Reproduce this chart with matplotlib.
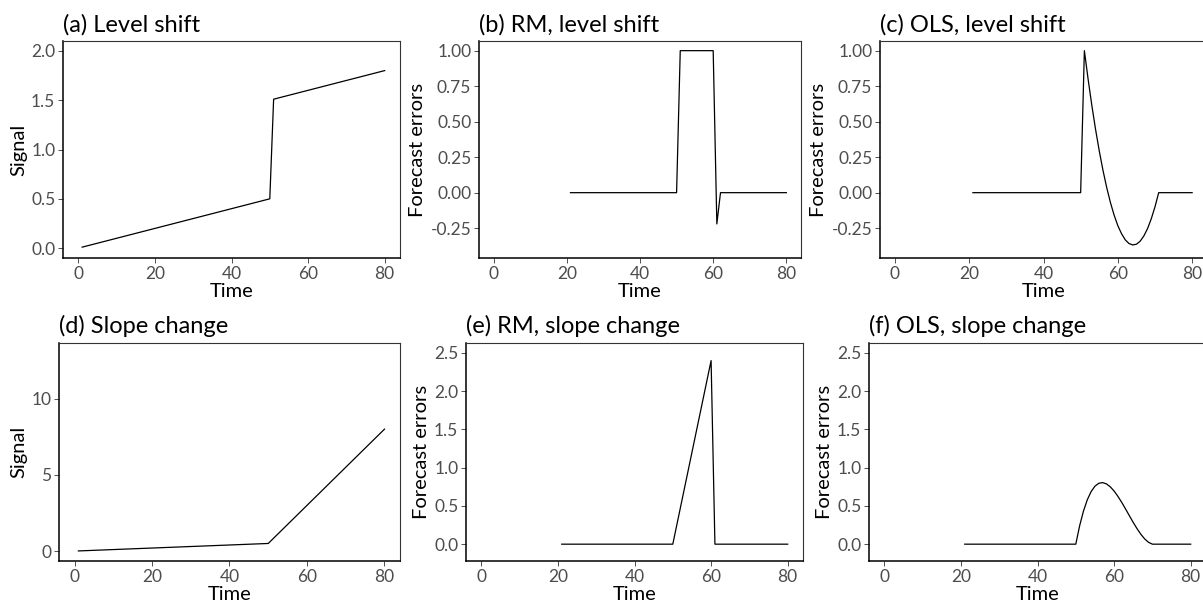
import matplotlib
matplotlib.use("Agg")
import matplotlib.pyplot as plt

plt.rcParams['font.family'] = ['Lato', 'DejaVu Sans']

# (a) signal with level shift (breakpoints)
t_level = [1, 50, 51, 80]
y_level = [0.01, 0.50, 1.51, 1.80]

# (b) RM forecast errors, level shift
t_rm_level = [21, 50, 51, 60, 61, 62, 80]
e_rm_level = [0.0, 0.0, 1.0, 1.0, -0.22, 0.0, 0.0]

# (c) OLS forecast errors, level shift
t_ols_level = [21, 50, 51, 52, 53, 54, 55, 56, 57, 58, 59, 60, 61, 62, 63, 64,
               65, 66, 67, 68, 69, 70, 71, 80]
e_ols_level = [0.0, 0.0, 1.0, 0.80, 0.616, 0.447, 0.295, 0.158, 0.037, -0.068,
               -0.158, -0.232, -0.289, -0.332, -0.358, -0.368, -0.363, -0.342,
               -0.305, -0.253, -0.184, -0.10, 0.0, 0.0]

# (d) signal with slope change (breakpoints)
t_slope = [1, 50, 80]
y_slope = [0.01, 0.50, 8.0]

# (e) RM forecast errors, slope change
t_rm_slope = [21, 50, 60, 61, 80]
e_rm_slope = [0.0, 0.0, 2.4, 0.0, 0.0]

# (f) OLS forecast errors, slope change
t_ols_slope = [21, 50, 51, 52, 53, 54, 55, 56, 57, 58, 59, 60, 61, 62, 63, 64,
               65, 66, 67, 68, 69, 70, 80]
e_ols_slope = [0.0, 0.0, 0.24, 0.432, 0.580, 0.687, 0.758, 0.796, 0.805, 0.788,
               0.750, 0.695, 0.625, 0.546, 0.460, 0.371, 0.284, 0.202, 0.129,
               0.068, 0.024, 0.0, 0.0]

W, H = 1203, 608
fig = plt.figure(figsize=(W / 100, H / 100), dpi=100)


def make_axes(l, r, t, b):
    return fig.add_axes([l / W, 1 - b / H, (r - l) / W, (b - t) / H])


panels = [
    (make_axes(63, 400, 41, 258), t_level, y_level, "(a) Level shift", "Signal",
     (-0.1, 2.1), [0, 0.5, 1.0, 1.5, 2.0], ["0.0", "0.5", "1.0", "1.5", "2.0"]),
    (make_axes(479, 801, 41, 258), t_rm_level, e_rm_level, "(b) RM, level shift",
     "Forecast errors", (-0.46, 1.068), [-0.25, 0, 0.25, 0.5, 0.75, 1.0],
     ["-0.25", "0.00", "0.25", "0.50", "0.75", "1.00"]),
    (make_axes(880, 1207, 41, 258), t_ols_level, e_ols_level, "(c) OLS, level shift",
     "Forecast errors", (-0.46, 1.068), [-0.25, 0, 0.25, 0.5, 0.75, 1.0],
     ["-0.25", "0.00", "0.25", "0.50", "0.75", "1.00"]),
    (make_axes(59, 400, 343, 561), t_slope, y_slope, "(d) Slope change", "Signal",
     (-0.65, 13.65), [0, 5, 10], ["0", "5", "10"]),
    (make_axes(466, 803, 343, 561), t_rm_slope, e_rm_slope, "(e) RM, slope change",
     "Forecast errors", (-0.22, 2.63), [0, 0.5, 1.0, 1.5, 2.0, 2.5],
     ["0.0", "0.5", "1.0", "1.5", "2.0", "2.5"]),
    (make_axes(869, 1206, 343, 561), t_ols_slope, e_ols_slope, "(f) OLS, slope change",
     "Forecast errors", (-0.22, 2.63), [0, 0.5, 1.0, 1.5, 2.0, 2.5],
     ["0.0", "0.5", "1.0", "1.5", "2.0", "2.5"]),
]

for ax, x, y, title, ylab, ylim, yt, ytl in panels:
    ax.plot(x, y, color="black", linewidth=0.9)
    ax.set_xlim(-4, 84)
    ax.set_ylim(*ylim)
    ax.set_xticks([0, 20, 40, 60, 80])
    ax.set_yticks(yt)
    ax.set_yticklabels(ytl)
    ax.tick_params(colors="#333333", labelcolor="#4D4D4D", labelsize=12.5,
                   length=3.5, width=0.6, pad=2)
    ax.set_title(title, loc="left", fontsize=17, pad=7)
    ax.set_xlabel("Time", fontsize=14.5, labelpad=1)
    ax.set_ylabel(ylab, fontsize=14.5, labelpad=3)
    for s in ax.spines.values():
        s.set_color("#333333")
        s.set_linewidth(0.8)
    ax.spines['left'].set_color("black")
    ax.spines['bottom'].set_color("black")
    ax.spines['left'].set_linewidth(1.1)
    ax.spines['bottom'].set_linewidth(1.1)

fig.savefig("out.png", dpi=100)
